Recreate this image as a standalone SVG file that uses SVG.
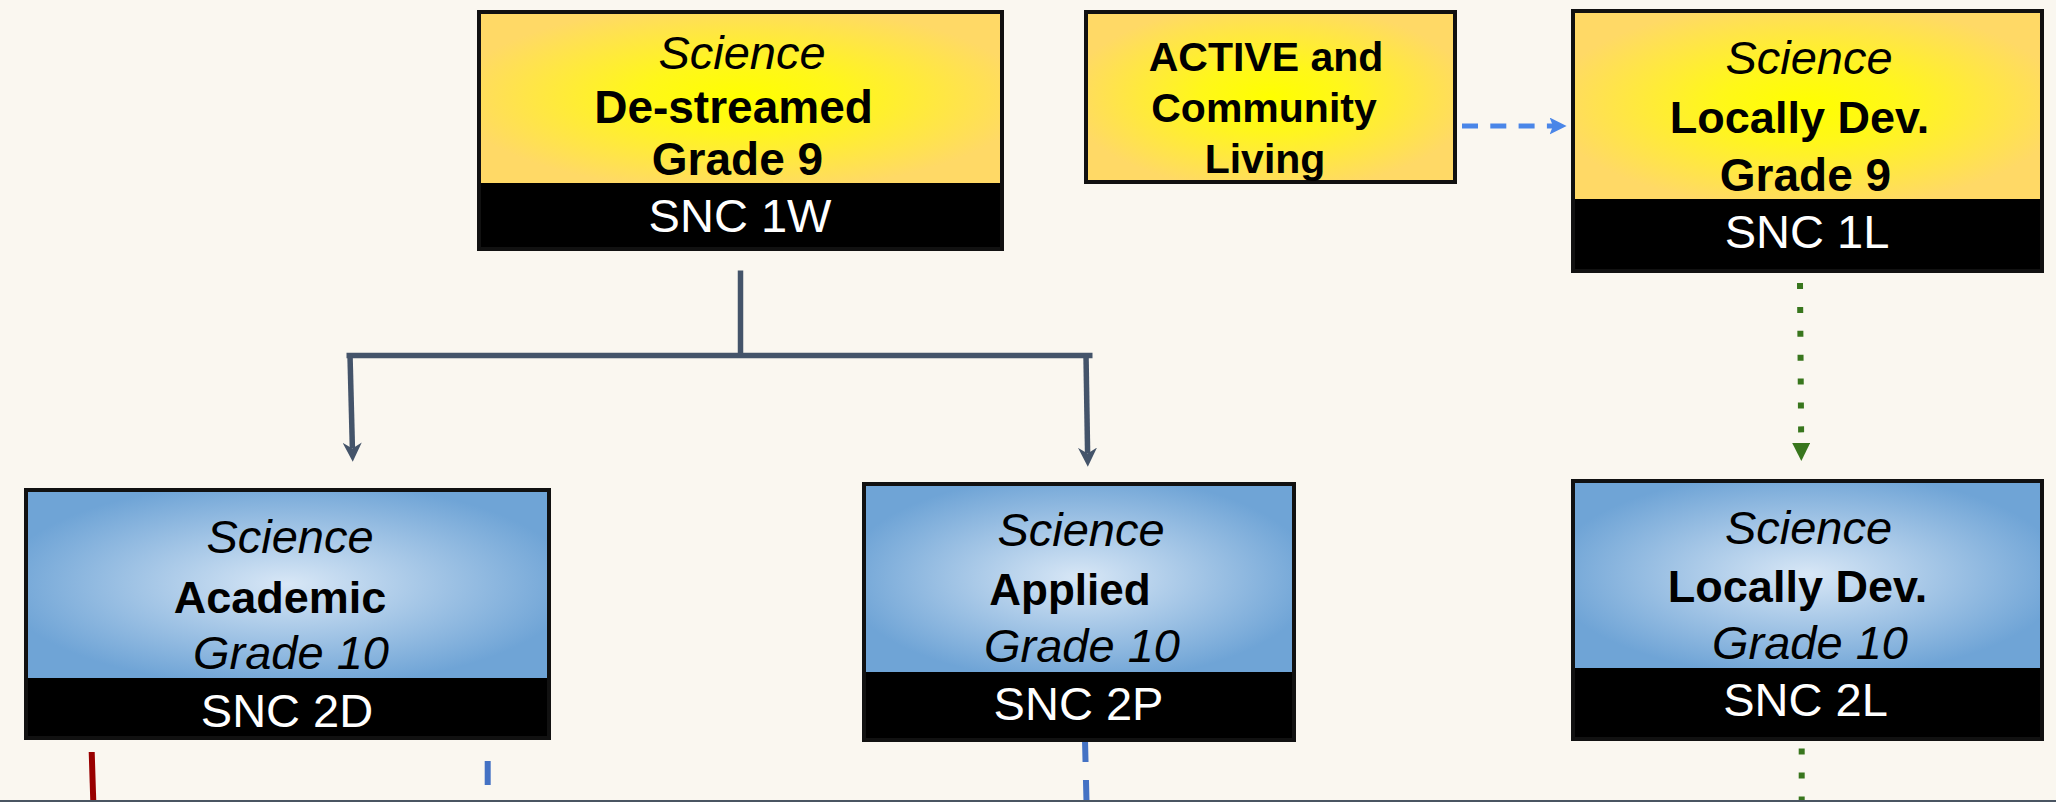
<svg xmlns="http://www.w3.org/2000/svg" width="2056" height="802" viewBox="0 0 2056 802">
<defs>
<radialGradient id="gY" cx="0.5" cy="0.5" r="0.55">
<stop offset="0" stop-color="#FFFF00"/>
<stop offset="0.35" stop-color="#FFF71A"/>
<stop offset="1" stop-color="#FFD966"/>
</radialGradient>
<radialGradient id="gB" cx="0.5" cy="0.5" r="0.55">
<stop offset="0" stop-color="#D8E7F6"/>
<stop offset="1" stop-color="#6FA4D6"/>
</radialGradient>
<marker id="aSlate" viewBox="0 0 20 20" refX="6" refY="10" markerWidth="19" markerHeight="19" markerUnits="userSpaceOnUse" orient="auto">
<path d="M0,0 L20,10 L0,20 L6,10 Z" fill="#44546A"/>
</marker>
<marker id="aBlue" viewBox="0 0 20 20" refX="4" refY="10" markerWidth="17" markerHeight="17" markerUnits="userSpaceOnUse" orient="auto">
<path d="M0,0 L20,10 L0,20 L4,10 Z" fill="#4A86E8"/>
</marker>
<marker id="aGreen" viewBox="0 0 18 18" refX="0" refY="9" markerWidth="18" markerHeight="18" markerUnits="userSpaceOnUse" orient="auto">
<path d="M0,0 L18,9 L0,18 Z" fill="#38761D"/>
</marker>
</defs>
<style>
text{font-family:"Liberation Sans",Arial,sans-serif;text-anchor:middle;fill:#000}
.it{font-style:italic;font-size:47px}
.b{font-weight:bold;font-size:46px}
.code{font-size:47px;fill:#fff}
.act{font-weight:bold;font-size:41px}
.fy{fill:url(#gY)}
.fb{fill:url(#gB)}
.band{fill:#000}
.frame{fill:none;stroke:#111;stroke-width:4}
.slate{fill:none;stroke:#44546A;stroke-width:5.5}
</style>
<rect x="0" y="0" width="2056" height="802" fill="#FAF7F0"/>

<g id="connectors">
<line class="slate" x1="740.5" y1="270.5" x2="740.5" y2="358"/>
<line class="slate" x1="346.5" y1="355.5" x2="1092.5" y2="355.5"/>
<line class="slate" x1="350" y1="355" x2="352.4" y2="448.4" stroke-width="5" marker-end="url(#aSlate)"/>
<line class="slate" x1="1086" y1="355" x2="1087.6" y2="453.4" stroke-width="5" marker-end="url(#aSlate)"/>
<line x1="1462" y1="126" x2="1553" y2="126" stroke="#4A86E8" stroke-width="5" stroke-dasharray="16 12.3" marker-end="url(#aBlue)"/>
<line x1="1800" y1="283" x2="1801.2" y2="443" stroke="#38761D" stroke-width="6" stroke-dasharray="6 17.9" marker-end="url(#aGreen)"/>
<line x1="1801.7" y1="748.5" x2="1801.7" y2="802" stroke="#38761D" stroke-width="6" stroke-dasharray="6 18"/>
<line x1="91.7" y1="752" x2="93.3" y2="802" stroke="#990000" stroke-width="6"/>
<line x1="487.7" y1="761" x2="487.7" y2="785" stroke="#4472C4" stroke-width="6"/>
<line x1="1085" y1="740" x2="1086.5" y2="802" stroke="#4472C4" stroke-width="6" stroke-dasharray="22 18"/>
</g>

<g id="snc1w">
<rect class="fy" x="479" y="12" width="523" height="171"/>
<rect class="band" x="477" y="183" width="527" height="68"/>
<rect class="frame" x="479" y="12" width="523" height="237"/>
<text class="it" x="742" y="69">Science</text>
<text class="b" x="733.5" y="123">De-streamed</text>
<text class="b" x="737.5" y="175">Grade 9</text>
<text class="code" x="740" y="232">SNC 1W</text>
</g>

<g id="active">
<rect class="fy" x="1086" y="12" width="369" height="170"/>
<rect class="frame" x="1086" y="12" width="369" height="170"/>
<text class="act" x="1266" y="71">ACTIVE and</text>
<text class="act" x="1264" y="122">Community</text>
<text class="act" x="1265" y="173">Living</text>
</g>

<g id="snc1l">
<rect class="fy" x="1573" y="11" width="469" height="188"/>
<rect class="band" x="1571" y="199" width="473" height="74"/>
<rect class="frame" x="1573" y="11" width="469" height="260"/>
<text class="it" x="1809" y="74">Science</text>
<text class="b" x="1799.5" y="133" style="font-size:45px">Locally Dev.</text>
<text class="b" x="1805.5" y="190.5">Grade 9</text>
<text class="code" x="1807" y="248">SNC 1L</text>
</g>

<g id="snc2d">
<rect class="fb" x="26" y="490" width="523" height="188"/>
<rect class="band" x="24" y="678" width="527" height="62"/>
<rect class="frame" x="26" y="490" width="523" height="248"/>
<text class="it" x="290" y="552.5">Science</text>
<text class="b" x="280" y="612.5" style="font-size:45px">Academic</text>
<text class="it" x="291" y="669">Grade 10</text>
<text class="code" x="287" y="727">SNC 2D</text>
</g>

<g id="snc2p">
<rect class="fb" x="864" y="484" width="430" height="188"/>
<rect class="band" x="862" y="672" width="434" height="70"/>
<rect class="frame" x="864" y="484" width="430" height="256"/>
<text class="it" x="1081" y="546">Science</text>
<text class="b" x="1070" y="605" style="font-size:44px">Applied</text>
<text class="it" x="1082" y="661.5">Grade 10</text>
<text class="code" x="1078.5" y="720">SNC 2P</text>
</g>

<g id="snc2l">
<rect class="fb" x="1573" y="481" width="469" height="187"/>
<rect class="band" x="1571" y="668" width="473" height="73"/>
<rect class="frame" x="1573" y="481" width="469" height="258"/>
<text class="it" x="1808.5" y="543.5">Science</text>
<text class="b" x="1797.5" y="602" style="font-size:45px">Locally Dev.</text>
<text class="it" x="1810" y="659">Grade 10</text>
<text class="code" x="1805.5" y="716">SNC 2L</text>
</g>

<rect id="frame-bottom" x="0" y="800" width="2056" height="2" fill="#4A5562"/>
</svg>
